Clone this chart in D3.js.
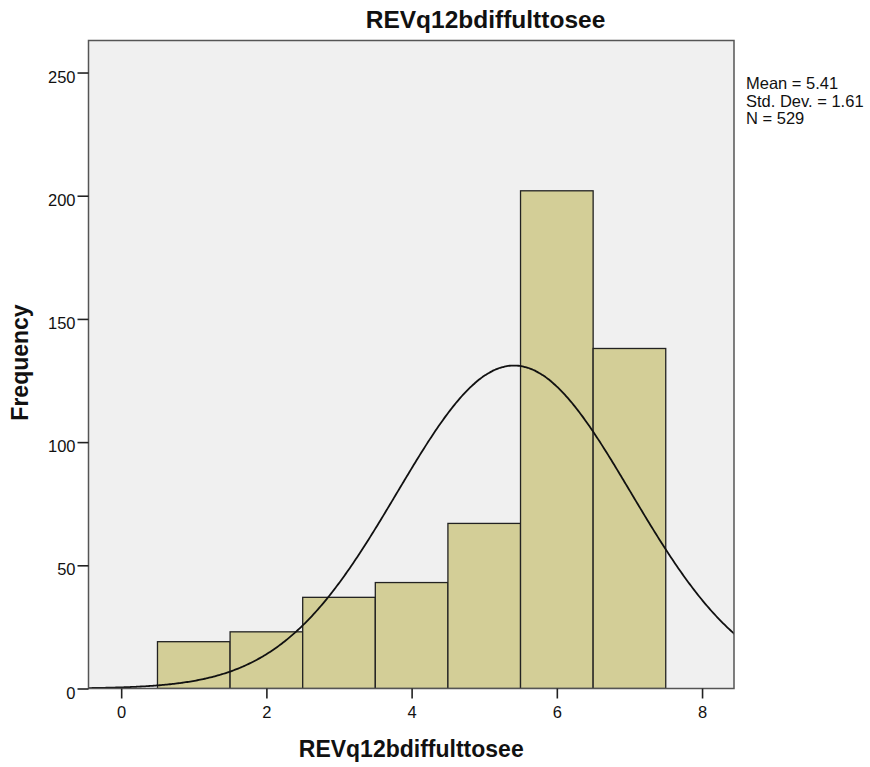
<!DOCTYPE html>
<html>
<head>
<meta charset="utf-8">
<script src="https://cdn.jsdelivr.net/npm/d3@7"></script>
<style>
  body { margin: 0; background: #fff; }
  svg text { font-family: "Liberation Sans", Arial, sans-serif; fill: #111; }
</style>
</head>
<body>
<svg id="chart" width="870" height="767"></svg>
<script>
// Histogram of REVq12bdiffulttosee with fitted normal curve
const binCenters = [1, 2, 3, 4, 5, 6, 7];
const binCounts  = [19, 23, 37, 43, 67, 202, 138];
const binWidth = 1;
const xTicks = [0, 2, 4, 6, 8];
const yTicks = [0, 50, 100, 150, 200, 250];
const statMean = 5.41, statSD = 1.61, statN = 529;
const statLines = ["Mean = 5.41", "Std. Dev. = 1.61", "N = 529"];

const svg = d3.select("#chart");
const L = 88.5, R = 734, T = 40.5, B = 688.5;

const x = d3.scaleLinear().domain([-0.45, 8.44]).range([L, R]);
const y = d3.scaleLinear().domain([0, 263]).range([B, T]);

// plot background
svg.append("rect").attr("x", L).attr("y", T).attr("width", R - L).attr("height", B - T)
  .attr("fill", "#f0f0f0");

svg.append("clipPath").attr("id", "plotclip")
  .append("rect").attr("x", L).attr("y", T).attr("width", R - L).attr("height", B - T);

const plot = svg.append("g").attr("clip-path", "url(#plotclip)");

// bars
plot.selectAll("rect.bar").data(binCenters).join("rect")
  .attr("class", "bar")
  .attr("x", d => x(d - binWidth / 2))
  .attr("width", d => x(d + binWidth / 2) - x(d - binWidth / 2))
  .attr("y", (d, i) => y(binCounts[i]))
  .attr("height", (d, i) => y(0) - y(binCounts[i]))
  .attr("fill", "#d3ce97")
  .attr("stroke", "#222")
  .attr("stroke-width", 1.3);

// normal curve scaled to counts
const pdf = v => Math.exp(-0.5 * ((v - statMean) / statSD) ** 2) / (statSD * Math.sqrt(2 * Math.PI));
const curvePts = d3.range(-0.45, 8.46, 0.02).map(v => [v, statN * binWidth * pdf(v)]);
plot.append("path")
  .datum(curvePts)
  .attr("fill", "none")
  .attr("stroke", "#111")
  .attr("stroke-width", 1.8)
  .attr("d", d3.line().x(d => x(d[0])).y(d => y(d[1])).curve(d3.curveBasis));

// frame
svg.append("rect").attr("x", L).attr("y", T).attr("width", R - L).attr("height", B - T)
  .attr("fill", "none").attr("stroke", "#555").attr("stroke-width", 1.5);

// axes
const yAxis = d3.axisLeft(y).tickValues(yTicks).tickSize(11).tickPadding(2).tickFormat(d3.format("d"));
const gy = svg.append("g").attr("transform", `translate(${L},0)`).call(yAxis);
gy.select(".domain").remove();
gy.selectAll("line").attr("stroke", "#222").attr("stroke-width", 1.6);
gy.selectAll("text").attr("font-size", 16.5).attr("dy", 9.5)
  .attr("font-family", "Liberation Sans, Arial, sans-serif").attr("fill", "#222");

const xAxis = d3.axisBottom(x).tickValues(xTicks).tickSize(10).tickPadding(5).tickFormat(d3.format("d"));
const gx = svg.append("g").attr("transform", `translate(0,${B})`).call(xAxis);
gx.select(".domain").remove();
gx.selectAll("line").attr("stroke", "#222").attr("stroke-width", 1.6);
gx.selectAll("text").attr("font-size", 16.5).attr("dy", 0).attr("y", 29)
  .attr("font-family", "Liberation Sans, Arial, sans-serif").attr("fill", "#222");

// titles
svg.append("text").attr("x", 485.5).attr("y", 28).attr("text-anchor", "middle")
  .attr("font-size", 24.5).attr("font-weight", "bold").text("REVq12bdiffulttosee");
svg.append("text").attr("x", (L + R) / 2).attr("y", 757).attr("text-anchor", "middle")
  .attr("font-size", 23).attr("font-weight", "bold").text("REVq12bdiffulttosee");
svg.append("text").attr("transform", `translate(28,${(T + B) / 2 - 2}) rotate(-90)`).attr("text-anchor", "middle")
  .attr("font-size", 23).attr("font-weight", "bold").text("Frequency");

// statistics box
svg.append("g").selectAll("text").data(statLines).join("text")
  .attr("x", 746).attr("y", (d, i) => 89 + i * 17.5)
  .attr("font-size", 16.5).attr("fill", "#222").text(d => d);
</script>
</body>
</html>
